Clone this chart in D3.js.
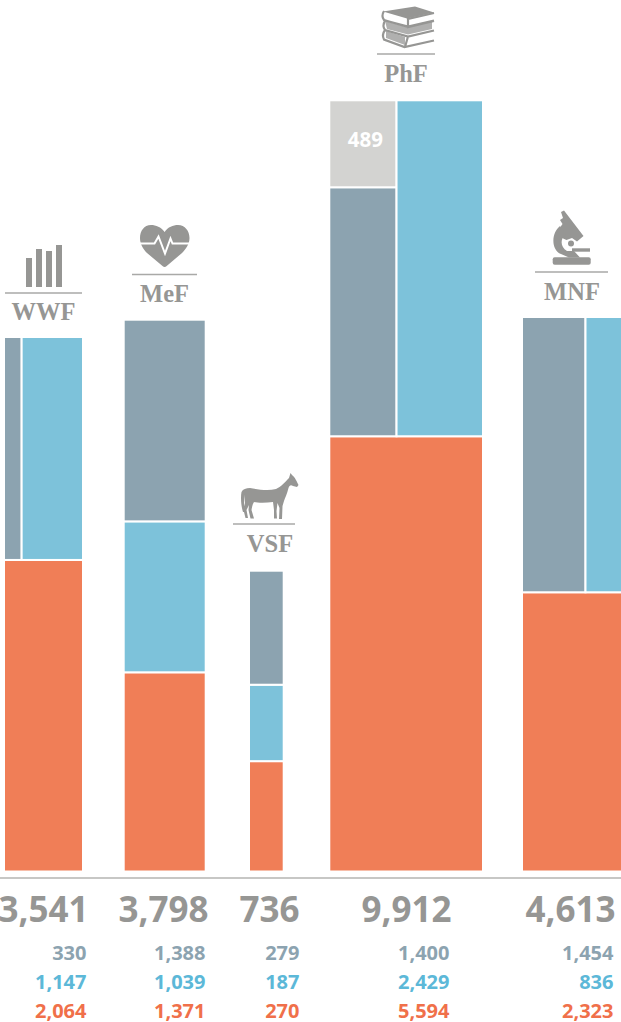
<!DOCTYPE html>
<html><head><meta charset="utf-8">
<script src="https://cdnjs.cloudflare.com/ajax/libs/d3/7.8.5/d3.min.js"></script>
<style>html,body{margin:0;padding:0;background:#fff;overflow:hidden}svg{display:block}</style>
</head><body><svg id="c" width="621" height="1022"></svg>
<script>
// Data
const faculties = ["WWF","MeF","VSF","PhF","MNF"];
const totals    = [3541,3798,736,9912,4613];
const greyVals  = [330,1388,279,1400,1454];
const blueVals  = [1147,1039,187,2429,836];
const orangeVals= [2064,1371,270,5594,2323];
const extraVals = [0,0,0,489,0];
const splitUpper= [true,false,false,true,true];

// Layout (not data)
const colLeft  = [4,123.7,249,329.3,522];
const colRight = [83,205.7,283.7,483,622];
const colTop   = [337,319.7,570.7,100.3,317];
const colBottom= 871.5;
const ruleX1   = [5,132,233,377,535], ruleX2=[82,197,295,435,608], ruleY=[293,274.5,524,54,272];
const labelX   = [43.5,164.5,270,406,572], labelY=[320,302,552,82,300];
const bigRight = [88.5,208.5,299.5,451.5,615.5], smallRight=[86.5,205.5,299.5,449.5,613.5];

const C={grey:"#8CA3B0",blue:"#7DC2DA",orange:"#F07E57",light:"#D3D3D1",text:"#969694",tBlue:"#5CB8D8",tOrange:"#F0704A",rule:"#A9A9A7"};
const svg=d3.select("#c");
const fmt=d3.format(",");
const sans="'Open Sans',sans-serif";

const rects=[];
faculties.forEach((f,i)=>{
  const y=d3.scaleLinear().domain([0,totals[i]]).range([colBottom,colTop[i]]);
  const o=orangeVals[i],b=blueVals[i],g=greyVals[i],e=extraVals[i];
  rects.push({x0:colLeft[i],x1:colRight[i],y0:y(o),y1:y(0),c:C.orange});
  if(splitUpper[i]){
    const left=g+e;
    const x=d3.scaleLinear().domain([0,left+b]).range([colLeft[i],colRight[i]]);
    const yl=d3.scaleLinear().domain([0,left]).range([y(o),colTop[i]]);
    rects.push({x0:x(0),x1:x(g+e),y0:yl(g),y1:yl(0),c:C.grey});
    if(e>0) rects.push({x0:x(0),x1:x(g+e),y0:yl(g+e),y1:yl(g),c:C.light,label:e});
    rects.push({x0:x(left),x1:x(left+b),y0:colTop[i],y1:y(o),c:C.blue});
  }else{
    rects.push({x0:colLeft[i],x1:colRight[i],y0:y(o+b),y1:y(o),c:C.blue});
    rects.push({x0:colLeft[i],x1:colRight[i],y0:y(o+b+g),y1:y(o+b),c:C.grey});
  }
});
svg.append("g").selectAll("rect").data(rects).join("rect")
  .attr("x",d=>d.x0).attr("y",d=>d.y0).attr("width",d=>d.x1-d.x0).attr("height",d=>d.y1-d.y0)
  .attr("fill",d=>d.c).attr("stroke","#fff").attr("stroke-width",2);
svg.append("g").selectAll("text").data(rects.filter(d=>d.label)).join("text")
  .attr("x",d=>(d.x0+d.x1)/2+2.5).attr("y",d=>(d.y0+d.y1)/2+3.5).attr("text-anchor","middle")
  .attr("font-family",sans).attr("font-weight",700).attr("font-size",20.5).attr("fill","#fff").text(d=>d.label);

// baseline
svg.append("line").attr("x1",0).attr("x2",621).attr("y1",878).attr("y2",878).attr("stroke","#B4B4B2").attr("stroke-width",1.6);

// rules + labels
const idx=faculties.map((_,i)=>i);
svg.append("g").selectAll("line").data(idx).join("line")
  .attr("x1",i=>ruleX1[i]).attr("x2",i=>ruleX2[i]).attr("y1",i=>ruleY[i]).attr("y2",i=>ruleY[i])
  .attr("stroke",C.rule).attr("stroke-width",1.6);
svg.append("g").selectAll("text").data(idx).join("text")
  .attr("x",i=>labelX[i]).attr("y",i=>labelY[i]).attr("text-anchor","middle")
  .attr("font-family","'Liberation Serif',serif").attr("font-weight",700).attr("font-size",24.5).attr("fill",C.text)
  .text(i=>faculties[i]);

// numbers
svg.append("g").selectAll("text").data(idx).join("text")
  .attr("x",i=>bigRight[i]).attr("y",922).attr("text-anchor","end")
  .attr("font-family",sans).attr("font-weight",700).attr("font-size",35).attr("fill",C.text)
  .text(i=>fmt(totals[i]));
[[greyVals,960,C.grey],[blueVals,989,C.tBlue],[orangeVals,1018,C.tOrange]].forEach(([vals,y,col])=>{
  svg.append("g").selectAll("text").data(idx).join("text")
    .attr("x",i=>smallRight[i]).attr("y",y).attr("text-anchor","end")
    .attr("font-family",sans).attr("font-weight",700).attr("font-size",20).attr("fill",col)
    .text(i=>fmt(vals[i]));
});

// Icons
const icons=svg.append("g").attr("fill",C.text);
// WWF bars
d3.zip([26,36,46,56],[258,249,251,245]).forEach(([x,y])=>icons.append("rect").attr("x",x).attr("y",y).attr("width",6).attr("height",287-y));
// heart
icons.append("path").attr("d","M164.6 232 C161 227 156 225 151 225 C144 225 140 231 140 238 C140 244 143 249 147 253 L162.5 266 Q164.6 267.8 166.7 266 L182 253 C186 249 189.5 244 189.5 238 C189.5 231 185 225 178 225 C173 225 168 227 164.6 232Z");
icons.append("path").attr("d","M139 243.5 H154.5 L158.5 236.5 L165 253.5 L170.5 238.5 L172.5 243.5 H191").attr("fill","none").attr("stroke","#fff").attr("stroke-width",2);
// books
const bk=icons.append("g");
bk.append("path").attr("d","M383 11.5 L415 6.5 L434 12.5 L407 18.5Z");
bk.append("path").attr("d","M434 13 L408 19 L408 27 L434 21 M384 11 Q381 16 384 20 L408 27 M434 20.5 L408 26.5 L385 20.5 Q382 26 385 30 L408 36.5 L434 30.5 M385 30 Q381.5 35 384 39.5 L404.5 47 L434 40.5 M408 36.5 L405 47")
  .attr("fill","none").attr("stroke",C.text).attr("stroke-width",2.2);
bk.append("path").attr("d","M385 21 L408 27.5 L432 21.5 L432 29 L408 34.5 L387 29Z M386 31 L405 37 L405 45 L386 38Z").attr("fill",C.text).attr("opacity",.75);
// microscope
const ms=icons.append("g");
ms.append("rect").attr("x",552.7).attr("y",257.3).attr("width",38).attr("height",7.4).attr("rx",2);
ms.append("path").attr("d","M561 212 L564 210.5 L583.5 236 L577 241.5 L572 238 L566.5 240 C558 237 557 231 562.5 224 L560 220 L563 218 Z");
ms.append("path").attr("d","M560 226 C551 233 551 250 561 254 L569 257.5 L580 257.5 L574 251 L567 251 C560 247 560 238 566 235 Z");
ms.append("rect").attr("x",572).attr("y",248.3).attr("width",18).attr("height",3.4);
ms.append("circle").attr("cx",571).attr("cy",243.5).attr("r",3);
// horse
icons.append("path").attr("d","M241.5 492 C243 489 246 488 250 488 C258 489.5 268 491 276 489 C281 487 285 482 289 478 L290.5 473 L292 475 C295 477 297 482 298.5 485 L297 487 L293 486 C291 484.5 289.5 485 288.5 488 C287 494 285 498 284 501 L282.5 506 L282 519 L279 519 L279.5 508 L277.5 503 L276.5 511 L277 518.5 L274 518.5 L274 510 L273 502 C266 503 258 503 254 502 C252 505 252 508 251.5 510 L254 518.5 L250.5 518.5 L248.5 510 L249 505 L246.5 510 L248 518 L245.5 518 L243.5 510 L245 503 C244.5 498 244 496 244 494 C244 500 244 506 245 512 L243 512 C241 506 240.5 497 241.5 492Z");
</script></body></html>
